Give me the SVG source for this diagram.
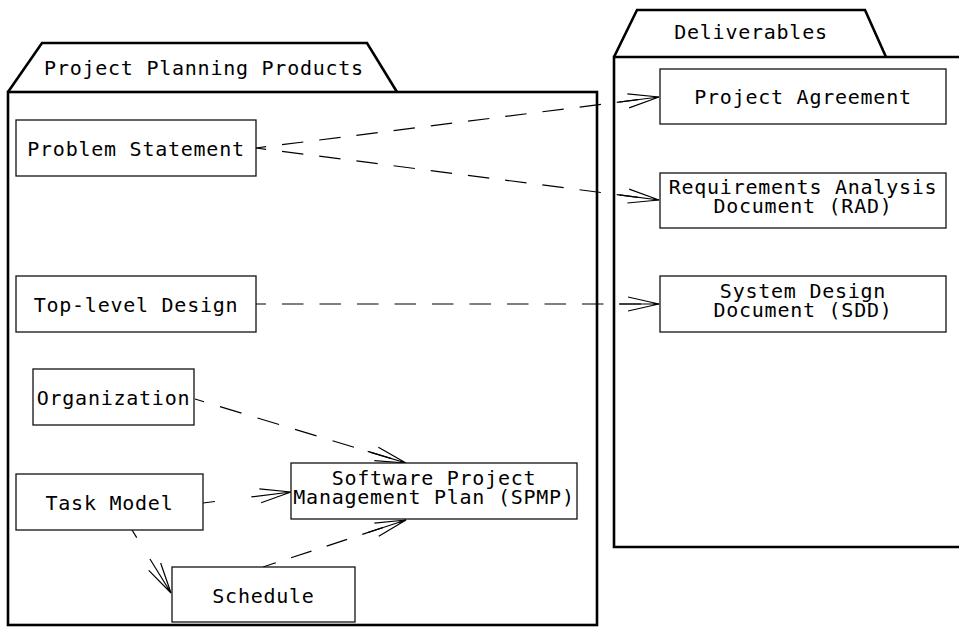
<svg xmlns="http://www.w3.org/2000/svg" width="959" height="630" viewBox="0 0 959 630">
<style>
  .pkg { fill: none; stroke: #000; stroke-width: 2.6; stroke-linejoin: miter; }
  .box { fill: #fff; stroke: #111; stroke-width: 1.3; }
  .lbl { font-family: "DejaVu Sans Mono", "Liberation Mono", monospace; font-size: 20px; letter-spacing: 0.75px; fill: #000; text-anchor: middle; }
  .dep { fill: none; stroke: #000; stroke-width: 1.2; stroke-dasharray: 21.5 16; marker-end: url(#open); }
</style>
<defs>
  <marker id="open" markerUnits="userSpaceOnUse" markerWidth="60" markerHeight="30" refX="0" refY="0" orient="auto" overflow="visible">
    <path d="M-40,0 L0,0 M-31,-7 L0,0 L-31,7" fill="none" stroke="#000" stroke-width="1.2"/>
  </marker>
</defs>
<rect width="959" height="630" fill="#fff"/>

<g id="pkg-planning">
  <polyline class="pkg" points="8,92 42,43 367,43 397,92"/>
  <rect class="pkg" x="8" y="92" width="589" height="533"/>
  <text class="lbl" x="204" y="75">Project Planning Products</text>
</g>
<g id="pkg-deliverables">
  <polyline class="pkg" points="614,57 637,10 865,10 886,57"/>
  <polyline class="pkg" points="962,57 614,57 614,547 962,547"/>
  <text class="lbl" x="751" y="39">Deliverables</text>
</g>

<g id="connectors">
  <path class="dep" d="M256,148 L659,97" stroke-dashoffset="11.3"/>
  <path class="dep" d="M256,148 L659,200" stroke-dashoffset="11.3"/>
  <path class="dep" d="M256,304 L659,304" stroke-dashoffset="11.5"/>
  <path class="dep" d="M195,399 L406,463" style="stroke-dasharray:22.5 16.7" stroke-dashoffset="13.1"/>
  <path class="dep" d="M203,503 L291,492" style="stroke-dasharray:12 300"/>
  <path class="dep" d="M132,530 L171,593" style="stroke-dasharray:9 300"/>
  <path class="dep" d="M263,567 L406,520" stroke-dashoffset="8"/>
</g>

<g id="problem-statement">
  <rect class="box" x="16" y="120" width="240" height="56"/>
  <text class="lbl" x="136" y="156">Problem Statement</text>
</g>
<g id="top-level-design">
  <rect class="box" x="16" y="276" width="240" height="56"/>
  <text class="lbl" x="136" y="312">Top-level Design</text>
</g>
<g id="organization">
  <rect class="box" x="33" y="369" width="161" height="56"/>
  <text class="lbl" x="113.5" y="405">Organization</text>
</g>
<g id="task-model">
  <rect class="box" x="16" y="474" width="187" height="56"/>
  <text class="lbl" x="109.5" y="510">Task Model</text>
</g>
<g id="schedule">
  <rect class="box" x="172" y="567" width="183" height="55"/>
  <text class="lbl" x="263.5" y="603">Schedule</text>
</g>
<g id="spmp">
  <rect class="box" x="291" y="463" width="286" height="56"/>
  <text class="lbl" x="434" y="485">Software Project</text>
  <text class="lbl" x="434" y="504">Management Plan (SPMP)</text>
</g>
<g id="project-agreement">
  <rect class="box" x="660" y="69" width="286" height="55"/>
  <text class="lbl" x="803" y="104">Project Agreement</text>
</g>
<g id="rad">
  <rect class="box" x="660" y="173" width="286" height="55"/>
  <text class="lbl" x="803" y="194">Requirements Analysis</text>
  <text class="lbl" x="803" y="213">Document (RAD)</text>
</g>
<g id="sdd">
  <rect class="box" x="660" y="276" width="286" height="56"/>
  <text class="lbl" x="803" y="298">System Design</text>
  <text class="lbl" x="803" y="317">Document (SDD)</text>
</g>
</svg>
